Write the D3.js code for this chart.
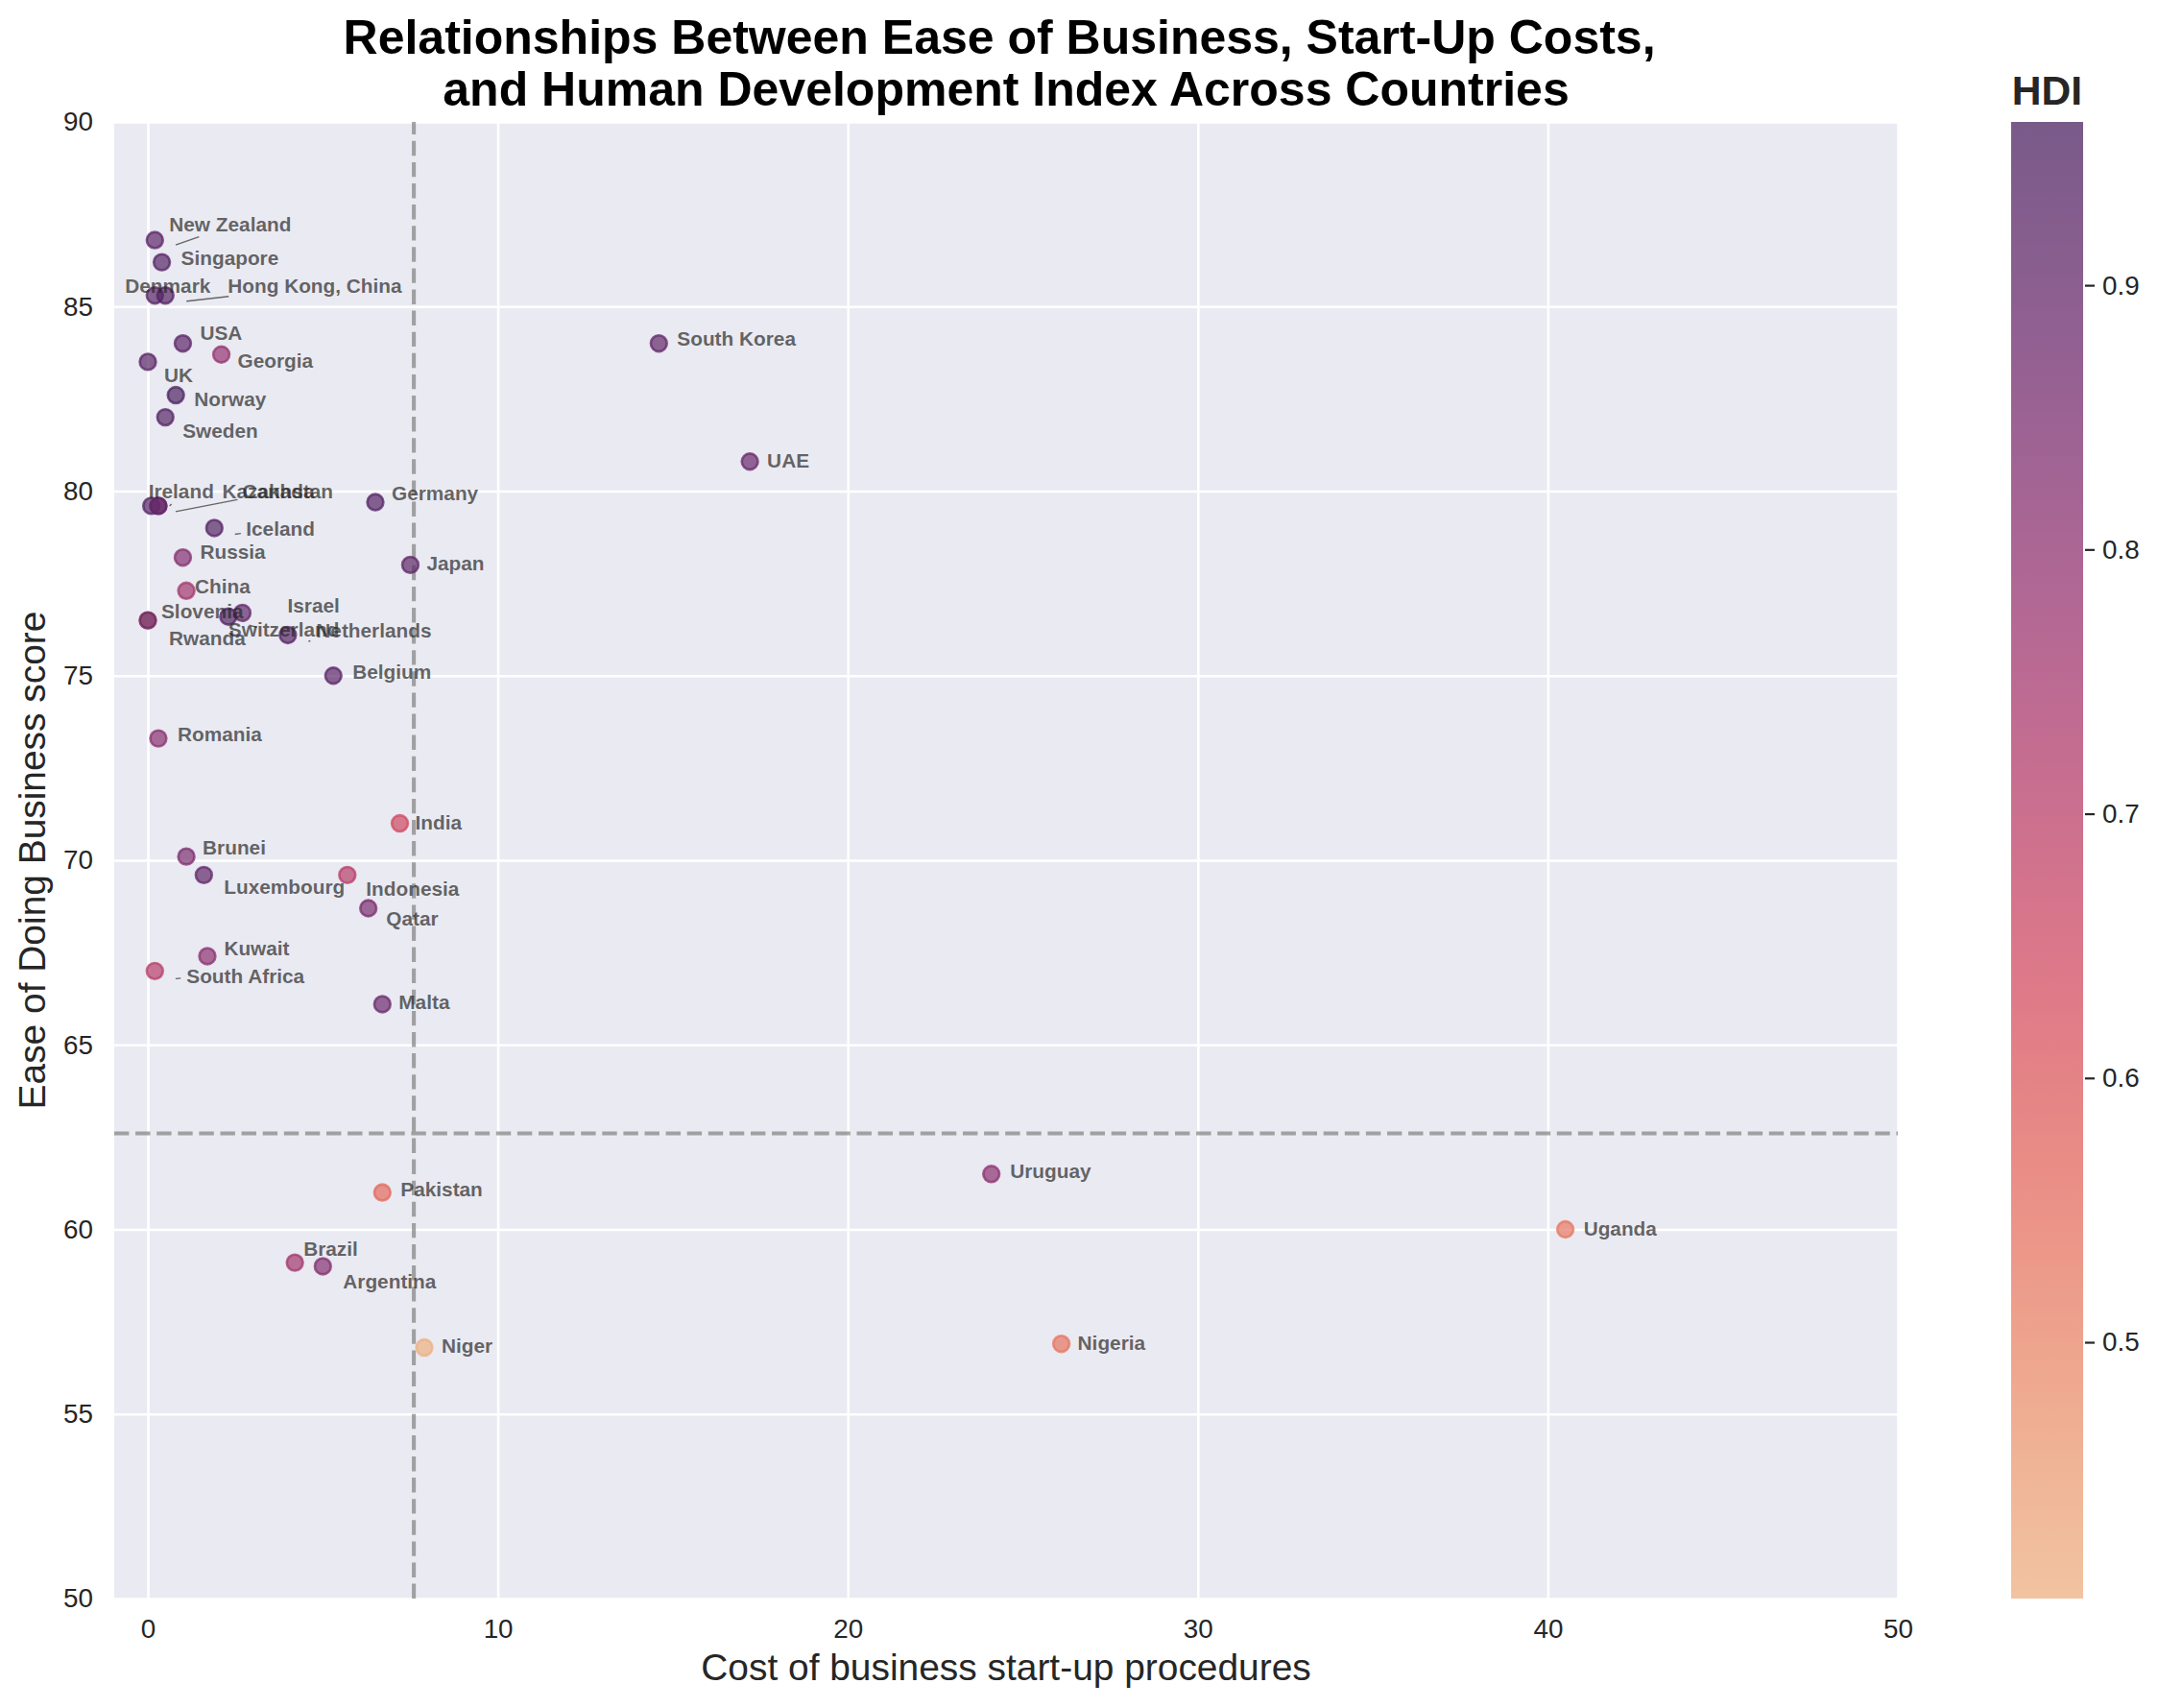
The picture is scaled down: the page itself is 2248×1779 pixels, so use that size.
<!DOCTYPE html>
<html>
<head>
<meta charset="utf-8">
<script src="https://cdn.jsdelivr.net/npm/d3@7"></script>
<style>
  html, body { margin: 0; background: #fff; }
  svg { display: block; font-family: "Liberation Sans", Arial, sans-serif; }
</style>
</head>
<body>
<svg id="chart" width="2248" height="1779"></svg>
<script>
const countries = ['New Zealand', 'Singapore', 'Denmark', 'Hong Kong, China', 'USA', 'Georgia', 'UK', 'Norway', 'Sweden',
  'South Korea', 'UAE', 'Ireland', 'Kazakhstan', 'Canada', 'Germany', 'Iceland', 'Russia', 'Japan', 'China', 'Rwanda',
  'Slovenia', 'Israel', 'Switzerland', 'Netherlands', 'Belgium', 'Romania', 'India', 'Brunei', 'Luxembourg', 'Indonesia',
  'Qatar', 'Kuwait', 'South Africa', 'Malta', 'Pakistan', 'Uruguay', 'Uganda', 'Brazil', 'Argentina', 'Nigeria', 'Niger'];
const startupCost = [0.2, 0.4, 0.2, 0.5, 1.0, 2.1, 0.0, 0.8, 0.5,
  14.6, 17.2, 0.1, 0.3, 0.3, 6.5, 1.9, 1.0, 7.5, 1.1, 0.0,
  0.0, 2.7, 2.3, 4.0, 5.3, 0.3, 7.2, 1.1, 1.6, 5.7,
  6.3, 1.7, 0.2, 6.7, 6.7, 24.1, 40.5, 4.2, 5.0, 26.1, 7.9];
const easeScore = [86.8, 86.2, 85.3, 85.3, 84.0, 83.7, 83.5, 82.6, 82.0,
  84.0, 80.8, 79.6, 79.6, 79.6, 79.7, 79.0, 78.2, 78.0, 77.3, 76.5,
  76.5, 76.7, 76.6, 76.1, 75.0, 73.3, 71.0, 70.1, 69.6, 69.6,
  68.7, 67.4, 67.0, 66.1, 61.0, 61.5, 60.0, 59.1, 59.0, 56.9, 56.8];
const hdi = [0.921, 0.935, 0.929, 0.939, 0.92, 0.786, 0.922, 0.954, 0.937,
  0.906, 0.89, 0.942, 0.817, 0.922, 0.939, 0.938, 0.824, 0.915, 0.758, 0.536,
  0.902, 0.906, 0.946, 0.933, 0.919, 0.816, 0.647, 0.845, 0.909, 0.707,
  0.848, 0.808, 0.705, 0.885, 0.56, 0.808, 0.528, 0.761, 0.83, 0.534, 0.403];
const medianCost = 7.6;
const medianEase = 62.6;
const xTicks = [0, 10, 20, 30, 40, 50];
const yTicks = [50, 55, 60, 65, 70, 75, 80, 85, 90];
const hdiTicks = [0.5, 0.6, 0.7, 0.8, 0.9];
const flareStops = ['#edb081', '#e98d6b', '#e3685c', '#d14a61', '#b13c6c', '#8f3371', '#6c2b6d', '#4b2362'];

// where adjust_text ended up putting each label, px from its point
const labelOffsets = {
  'New Zealand': [15, -16], 'Singapore': [20, -4], 'Denmark': [-31, -10], 'Hong Kong, China': [65, -10],
  'USA': [18, -11], 'Georgia': [17, 6], 'UK': [17, 14], 'Norway': [19, 4.5], 'Sweden': [18, 14],
  'South Korea': [19, -5], 'UAE': [18, -1], 'Ireland': [-3, -15], 'Kazakhstan': [66.5, -15], 'Canada': [87.5, -15],
  'Germany': [17, -9], 'Iceland': [33, 1], 'Russia': [18, -6], 'Japan': [17, -2], 'China': [9, -5],
  'Rwanda': [22, 19], 'Slovenia': [14, -9], 'Israel': [47, -8], 'Switzerland': [0, 13], 'Netherlands': [29.5, -5],
  'Belgium': [20, -4], 'Romania': [20, -4], 'India': [16, -1], 'Brunei': [17, -9], 'Luxembourg': [21, 12],
  'Indonesia': [19.5, 14], 'Qatar': [18.6, 11], 'Kuwait': [17.4, -8], 'South Africa': [33, 5], 'Malta': [17, -2],
  'Pakistan': [19, -3], 'Uruguay': [19.5, -3], 'Uganda': [19, -0.5], 'Brazil': [9, -14], 'Argentina': [21, 16],
  'Nigeria': [17, -1], 'Niger': [18, -1.5]
};
// short leader lines, px from the point
const leaders = [
  ['New Zealand', 21.7, 5, 46, -3.5], ['Hong Kong, China', 22, 6, 66, 1], ['Kazakhstan', 18, 6, 82.5, -6.5],
  ['Ireland', 19, 0, 21, -2], ['Iceland', 21.5, 6.5, 27.6, 5.7], ['Netherlands', 21.5, 6.5, 23.5, 6],
  ['Switzerland', 21.5, 9, 29.5, 11], ['South Africa', 21.6, 8, 27, 7.5]
];

const margin = { left: 119, right: 1977, top: 127, bottom: 1665 };
const inkColor = '#262626';
const markAlpha = 0.75;

const svg = d3.select('#chart');
const x = d3.scaleLinear().domain([-0.96, 50]).range([margin.left, margin.right]);
const y = d3.scaleLinear().domain([50, 90]).range([margin.bottom, margin.top]);
const cbarY = d3.scaleLinear().domain([0.403, 0.9618]).range([margin.bottom, margin.top]);
const color = d3.scaleSequential(d3.piecewise(d3.interpolateRgb, flareStops)).domain([0.403, 0.9618]);

const rows = countries.map((name, i) => ({ name, cost: startupCost[i], ease: easeScore[i], hdi: hdi[i] }));
const byName = new Map(rows.map(d => [d.name, d]));

// Plot background
svg.append('rect')
  .attr('x', margin.left).attr('y', margin.top)
  .attr('width', margin.right - margin.left).attr('height', margin.bottom - margin.top)
  .attr('fill', '#eaeaf2');

// Axes double as the white grid
const xAxis = svg.append('g')
  .attr('transform', `translate(0,${margin.bottom})`)
  .call(d3.axisBottom(x).tickValues(xTicks).tickSize(-(margin.bottom - margin.top)).tickPadding(21));
const yAxis = svg.append('g')
  .attr('transform', `translate(${margin.left},0)`)
  .call(d3.axisLeft(y).tickValues(yTicks).tickSize(-(margin.right - margin.left)).tickPadding(22));
[xAxis, yAxis].forEach(axis => {
  axis.select('.domain').remove();
  axis.selectAll('line').attr('stroke', '#fff').attr('stroke-width', 2.6);
  axis.selectAll('text').attr('fill', inkColor).attr('font-size', 27.8).attr('font-family', null);
});

// Median guides
const guides = svg.append('g')
  .attr('stroke', '#808080').attr('stroke-opacity', 0.7)
  .attr('stroke-width', 4.1).attr('stroke-dasharray', '15.4 6.7');
guides.append('line')
  .attr('x1', x(medianCost)).attr('x2', x(medianCost))
  .attr('y1', margin.bottom).attr('y2', margin.top);
guides.append('line')
  .attr('x1', margin.left).attr('x2', margin.right)
  .attr('y1', y(medianEase)).attr('y2', y(medianEase));

// Points
svg.append('g').selectAll('circle')
  .data(rows)
  .enter()
  .append('circle')
  .attr('cx', d => x(d.cost))
  .attr('cy', d => y(d.ease))
  .attr('r', 8.4)
  .attr('fill', d => color(d.hdi))
  .attr('fill-opacity', markAlpha - 0.05)
  .attr('stroke', d => color(d.hdi))
  .attr('stroke-opacity', markAlpha)
  .attr('stroke-width', 2.6);

// Leader lines
svg.append('g').selectAll('line')
  .data(leaders)
  .enter()
  .append('line')
  .attr('x1', d => x(byName.get(d[0]).cost) + d[1])
  .attr('y1', d => y(byName.get(d[0]).ease) + d[2])
  .attr('x2', d => x(byName.get(d[0]).cost) + d[3])
  .attr('y2', d => y(byName.get(d[0]).ease) + d[4])
  .attr('stroke', '#666')
  .attr('stroke-width', 1.4);

// Country labels
svg.append('g').selectAll('text')
  .data(rows)
  .enter()
  .append('text')
  .attr('x', d => x(d.cost) + labelOffsets[d.name][0])
  .attr('y', d => y(d.ease) + labelOffsets[d.name][1])
  .attr('dy', '0.35em')
  .attr('font-size', 20.8)
  .attr('font-weight', 'bold')
  .attr('fill', inkColor)
  .attr('fill-opacity', 0.7)
  .text(d => d.name);

// Titles (the first line keeps its trailing space, it shifts the centring a little)
const titleLines = ['Relationships Between Ease of Business, Start-Up Costs, ', 'and Human Development Index Across Countries'];
svg.append('g').selectAll('text')
  .data(titleLines)
  .enter()
  .append('text')
  .attr('x', (margin.left + margin.right) / 2)
  .attr('y', (d, i) => 55.5 + i * 54.5)
  .attr('text-anchor', 'middle')
  .attr('font-size', 50)
  .attr('font-weight', 'bold')
  .attr('fill', '#000')
  .style('white-space', 'pre')
  .text(d => d);

svg.append('text')
  .attr('x', (margin.left + margin.right) / 2).attr('y', 1750)
  .attr('text-anchor', 'middle').attr('font-size', 38.9).attr('fill', inkColor)
  .text('Cost of business start-up procedures');
svg.append('text')
  .attr('transform', `translate(47,${(margin.top + margin.bottom) / 2}) rotate(-90)`)
  .attr('text-anchor', 'middle').attr('font-size', 38.9).attr('fill', inkColor)
  .text('Ease of Doing Business score');

// Colour bar
const cbarLeft = 2095, cbarRight = 2170;
const grad = svg.append('defs').append('linearGradient')
  .attr('id', 'hdiGrad').attr('x1', 0).attr('x2', 0).attr('y1', 1).attr('y2', 0);
grad.selectAll('stop')
  .data(d3.range(0, 1.0001, 0.05))
  .enter()
  .append('stop')
  .attr('offset', d => d)
  .attr('stop-color', d => color(cbarY.invert(margin.bottom + d * (margin.top - margin.bottom))))
  .attr('stop-opacity', markAlpha);
svg.append('rect')
  .attr('x', cbarLeft).attr('y', margin.top)
  .attr('width', cbarRight - cbarLeft).attr('height', margin.bottom - margin.top)
  .attr('fill', 'url(#hdiGrad)');
const cbarAxis = svg.append('g')
  .attr('transform', `translate(${cbarRight + 2},0)`)
  .call(d3.axisRight(cbarY).tickValues(hdiTicks).tickFormat(d3.format('.1f')).tickSize(10).tickPadding(8));
cbarAxis.select('.domain').remove();
cbarAxis.selectAll('line').attr('stroke', inkColor).attr('stroke-width', 2.2);
cbarAxis.selectAll('text').attr('fill', inkColor).attr('font-size', 27.8).attr('font-family', null);
svg.append('text')
  .attr('x', (cbarLeft + cbarRight) / 2).attr('y', 109)
  .attr('text-anchor', 'middle').attr('font-size', 42.6).attr('font-weight', 'bold').attr('fill', inkColor)
  .text('HDI');
</script>
</body>
</html>
